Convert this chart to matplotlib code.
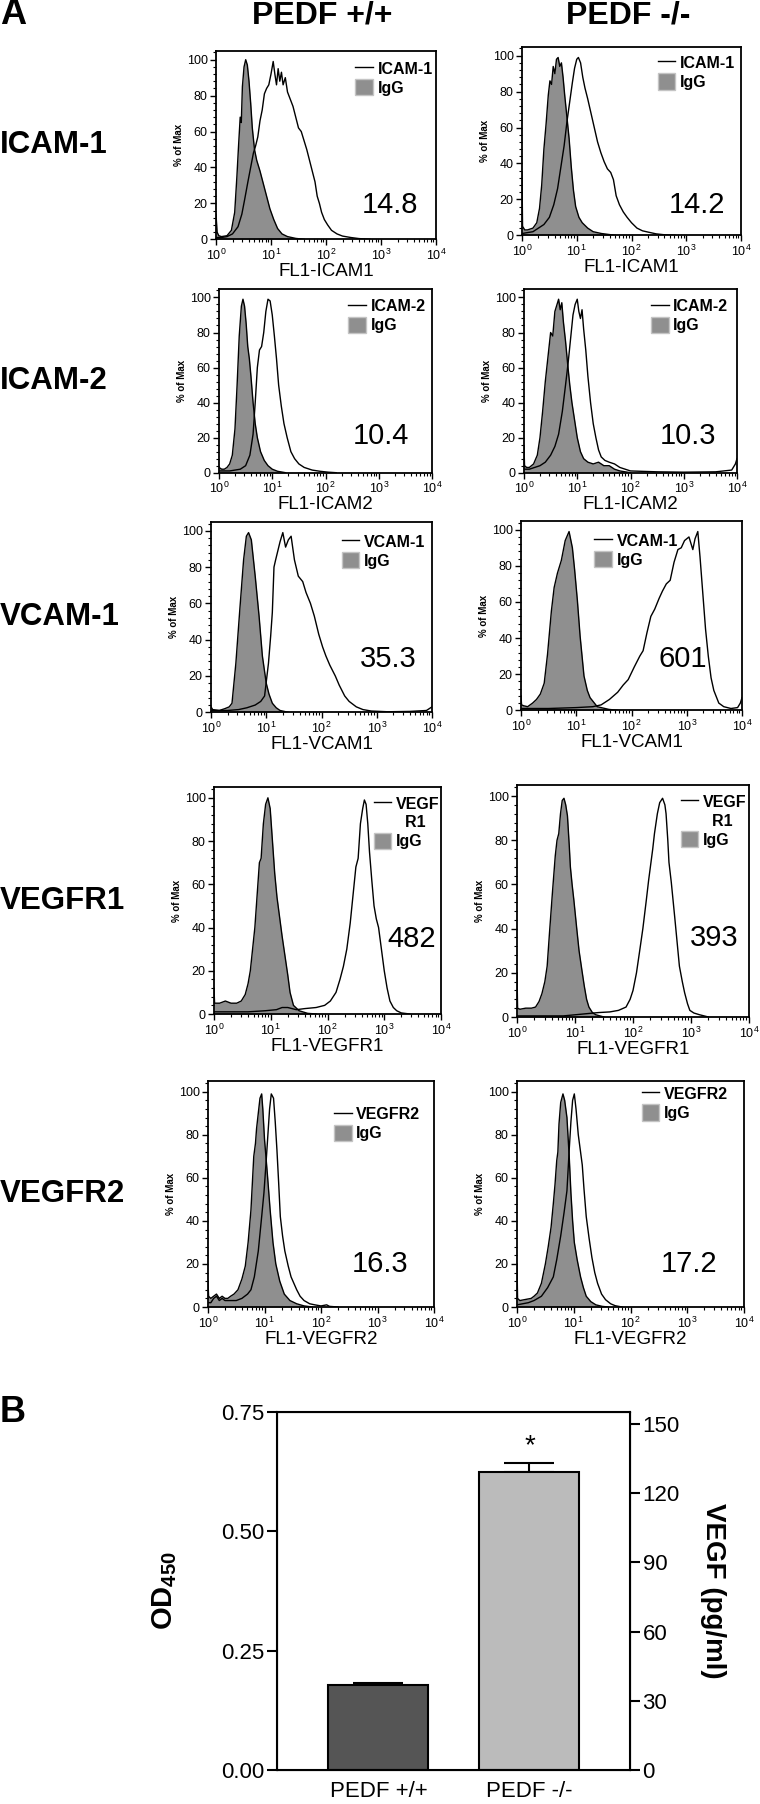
import matplotlib
matplotlib.use('Agg')
import matplotlib.pyplot as plt
from matplotlib.lines import Line2D
from matplotlib.patches import Patch
from matplotlib.ticker import AutoMinorLocator, LogLocator, NullFormatter

plt.rcParams['font.family'] = ['Liberation Sans', 'DejaVu Sans']
plt.rcParams['mathtext.fontset'] = 'custom'
plt.rcParams['mathtext.rm'] = 'Liberation Sans'
plt.rcParams['mathtext.bf'] = 'Liberation Sans:bold'

# ---- panel A data ----
markers = ['ICAM-1', 'ICAM-2', 'VCAM-1', 'VEGFR1', 'VEGFR2']
channel_labels = ['FL1-ICAM1', 'FL1-ICAM2', 'FL1-VCAM1', 'FL1-VEGFR1', 'FL1-VEGFR2']
legend_labels = [['ICAM-1'], ['ICAM-2'], ['VCAM-1'], ['VEGF', '  R1'], ['VEGFR2']]
mfi_wt = ['14.8', '10.4', '35.3', '482', '16.3']
mfi_ko = ['14.2', '10.3', '601', '393', '17.2']
decade_ticks = [1, 10, 100, 1000, 10000]
decade_labels = [r'$10^0$', r'$10^1$', r'$10^2$', r'$10^3$', r'$10^4$']

# histograms as (log10 fluorescence, % of max)
icam1_wt_igg = [(0, 14), (0.02, 4), (0.05, 2), (0.1, 1.5), (0.2, 2), (0.28, 5), (0.34, 15), (0.38, 35),
                (0.41, 52), (0.44, 68), (0.46, 65), (0.48, 85), (0.51, 96), (0.54, 100), (0.57, 97),
                (0.6, 88), (0.63, 76), (0.66, 62), (0.7, 50), (0.74, 44), (0.8, 38), (0.86, 31),
                (0.92, 24), (0.98, 17), (1.05, 11), (1.12, 6), (1.2, 3), (1.3, 1.5), (1.45, 0.5), (1.6, 0)]
icam1_wt_ab = [(0, 1), (0.1, 1), (0.2, 1.5), (0.3, 3), (0.4, 7), (0.47, 14), (0.52, 22), (0.58, 32),
               (0.63, 40), (0.68, 48), (0.72, 52), (0.76, 57), (0.8, 66), (0.84, 72), (0.88, 81),
               (0.92, 84), (0.96, 86), (1.0, 92), (1.04, 99), (1.07, 92), (1.1, 86), (1.13, 95),
               (1.16, 88), (1.19, 93), (1.22, 86), (1.26, 90), (1.3, 82), (1.35, 78), (1.4, 74),
               (1.45, 68), (1.5, 62), (1.55, 60), (1.6, 55), (1.65, 50), (1.7, 44), (1.75, 38),
               (1.8, 32), (1.84, 24), (1.88, 20), (1.92, 15), (1.97, 11), (2.03, 8), (2.1, 5),
               (2.2, 3), (2.3, 1.8), (2.45, 1), (2.6, 0.4), (2.8, 0)]
icam1_ko_igg = [(0, 35), (0.01, 5), (0.05, 3), (0.1, 3), (0.2, 4), (0.27, 7), (0.32, 15), (0.36, 28),
                (0.4, 48), (0.44, 62), (0.48, 78), (0.51, 86), (0.54, 84), (0.57, 94), (0.6, 90),
                (0.63, 98), (0.66, 99), (0.69, 94), (0.72, 96), (0.75, 88), (0.78, 78), (0.82, 66),
                (0.86, 54), (0.9, 38), (0.94, 25), (0.98, 16), (1.04, 10), (1.1, 7), (1.2, 4),
                (1.3, 2), (1.45, 1), (1.7, 0)]
icam1_ko_ab = [(0, 1), (0.1, 1.5), (0.2, 2), (0.3, 4), (0.4, 6), (0.5, 10), (0.58, 17), (0.65, 26),
               (0.72, 40), (0.77, 50), (0.82, 63), (0.87, 74), (0.92, 85), (0.96, 93), (1.0, 98),
               (1.03, 99), (1.07, 96), (1.11, 88), (1.15, 82), (1.2, 76), (1.26, 68), (1.32, 60),
               (1.38, 52), (1.44, 46), (1.5, 41), (1.56, 37), (1.62, 35), (1.67, 31), (1.72, 22),
               (1.78, 17), (1.85, 13), (1.92, 10), (2.0, 7), (2.1, 4), (2.2, 2.5), (2.3, 1.8),
               (2.45, 0.8), (2.6, 0.3), (2.8, 0)]

icam2_wt_igg = [(0, 3), (0.05, 2), (0.1, 2), (0.15, 3), (0.2, 5), (0.25, 10), (0.3, 25), (0.34, 50),
                (0.38, 78), (0.42, 95), (0.45, 99), (0.48, 95), (0.51, 85), (0.54, 72), (0.57, 65),
                (0.6, 55), (0.64, 40), (0.68, 28), (0.72, 20), (0.78, 12), (0.85, 7), (0.92, 4),
                (1.0, 2), (1.1, 0.8), (1.25, 0)]
icam2_wt_ab = [(0, 1), (0.2, 1), (0.4, 2), (0.5, 4), (0.58, 10), (0.64, 22), (0.68, 40), (0.72, 60),
               (0.76, 70), (0.8, 72), (0.84, 80), (0.88, 92), (0.92, 99), (0.96, 98), (1.0, 90),
               (1.04, 78), (1.08, 65), (1.12, 50), (1.17, 38), (1.22, 28), (1.28, 20), (1.35, 12),
               (1.42, 8), (1.5, 5), (1.6, 3), (1.75, 1.5), (1.9, 0.8), (2.05, 0.3), (2.2, 0)]
icam2_ko_igg = [(0, 15), (0.01, 4), (0.05, 3), (0.1, 3), (0.18, 5), (0.25, 10), (0.3, 20), (0.35, 35),
                (0.4, 52), (0.45, 66), (0.5, 80), (0.54, 78), (0.58, 92), (0.62, 96), (0.65, 99),
                (0.68, 93), (0.71, 97), (0.74, 86), (0.78, 75), (0.82, 62), (0.86, 50), (0.9, 40),
                (0.95, 30), (1.0, 20), (1.06, 12), (1.12, 8), (1.2, 6), (1.3, 5), (1.4, 6), (1.5, 4),
                (1.6, 4), (1.7, 2), (1.8, 1), (1.9, 0.5), (2.0, 0)]
icam2_ko_ab = [(0, 2), (0.1, 2), (0.2, 3), (0.3, 4), (0.4, 6), (0.5, 10), (0.58, 15), (0.65, 22),
               (0.72, 35), (0.78, 50), (0.83, 63), (0.88, 78), (0.92, 90), (0.96, 96), (1.0, 99),
               (1.03, 92), (1.06, 88), (1.09, 93), (1.12, 82), (1.16, 70), (1.2, 55), (1.25, 40),
               (1.3, 28), (1.35, 20), (1.4, 13), (1.45, 9), (1.52, 7), (1.6, 6), (1.7, 5), (1.8, 3),
               (1.9, 2), (2.0, 1), (2.5, 0.5), (3.0, 0.3), (3.6, 0.5), (3.9, 1.5), (3.97, 5), (4.0, 8)]

vcam1_wt_igg = [(0, 3), (0.03, 1.5), (0.15, 1), (0.25, 2), (0.33, 3), (0.38, 5), (0.45, 27), (0.52, 56),
                (0.59, 84), (0.64, 97), (0.68, 99), (0.73, 95), (0.8, 75), (0.87, 53), (0.93, 31),
                (1.0, 16), (1.05, 10), (1.11, 5), (1.18, 2.5), (1.25, 1), (1.4, 0)]
vcam1_wt_ab = [(0, 1), (0.3, 1), (0.5, 1.5), (0.65, 2.5), (0.8, 4), (0.9, 6), (0.97, 9), (1.04, 27),
               (1.08, 42), (1.11, 55), (1.14, 80), (1.17, 84), (1.21, 89), (1.25, 94), (1.3, 99),
               (1.35, 91), (1.4, 95), (1.45, 97), (1.51, 84), (1.58, 75), (1.66, 72), (1.72, 66),
               (1.8, 60), (1.87, 53), (1.95, 43), (2.02, 36), (2.08, 31), (2.15, 26), (2.25, 20),
               (2.32, 15), (2.42, 9), (2.5, 6), (2.63, 3), (2.75, 1.5), (2.9, 0.7), (3.2, 0.3),
               (3.6, 0.5), (3.9, 1), (4.0, 3)]
vcam1_ko_igg = [(0, 8), (0.01, 3), (0.05, 2.5), (0.12, 2), (0.21, 4), (0.28, 6), (0.35, 9), (0.42, 15),
                (0.48, 31), (0.55, 55), (0.6, 68), (0.66, 76), (0.73, 83), (0.8, 94), (0.87, 99),
                (0.93, 90), (0.97, 78), (1.02, 61), (1.07, 41), (1.14, 19), (1.2, 11), (1.25, 7),
                (1.38, 2), (1.59, 0.5), (1.75, 0)]
vcam1_ko_ab = [(0, 1), (0.5, 1), (1.0, 1.5), (1.3, 2), (1.45, 3), (1.6, 6), (1.75, 10), (1.85, 14),
               (1.94, 17), (2.05, 24), (2.15, 30), (2.21, 33), (2.28, 43), (2.35, 52), (2.42, 56),
               (2.5, 62), (2.56, 66), (2.63, 70), (2.7, 72), (2.77, 82), (2.84, 89), (2.9, 90),
               (2.96, 94), (3.04, 96), (3.08, 92), (3.11, 89), (3.15, 95), (3.2, 99), (3.24, 85),
               (3.29, 65), (3.34, 45), (3.39, 30), (3.44, 18), (3.49, 11), (3.58, 4), (3.67, 2),
               (3.8, 1), (3.92, 1.5), (3.97, 4), (4.0, 7)]

vegfr1_wt_igg = [(0, 12), (0.01, 5), (0.1, 5), (0.2, 6), (0.3, 5), (0.4, 5), (0.48, 6), (0.55, 9),
                 (0.6, 14), (0.64, 20), (0.68, 30), (0.72, 40), (0.76, 55), (0.8, 70), (0.83, 72),
                 (0.87, 88), (0.91, 97), (0.95, 100), (0.99, 95), (1.03, 80), (1.07, 65), (1.11, 54),
                 (1.15, 46), (1.2, 36), (1.25, 27), (1.3, 18), (1.34, 10), (1.4, 4), (1.5, 1.5),
                 (1.65, 0.3), (1.8, 0)]
vegfr1_wt_ab = [(0, 1), (0.3, 1), (0.6, 1), (0.9, 1.5), (1.1, 2), (1.2, 3), (1.3, 3), (1.45, 2),
                (1.6, 2.5), (1.8, 3), (1.95, 4), (2.05, 6), (2.15, 10), (2.22, 16), (2.28, 22),
                (2.34, 30), (2.4, 42), (2.45, 55), (2.5, 68), (2.54, 72), (2.58, 88), (2.62, 95),
                (2.65, 99), (2.68, 97), (2.71, 88), (2.74, 75), (2.78, 62), (2.82, 50), (2.86, 44),
                (2.9, 40), (2.95, 30), (3.0, 20), (3.05, 12), (3.1, 6), (3.16, 3), (3.22, 1.5),
                (3.3, 0.5), (3.45, 0)]
vegfr1_ko_igg = [(0, 20), (0.01, 4), (0.05, 3.5), (0.15, 4), (0.25, 4), (0.32, 4.5), (0.38, 7),
                 (0.43, 10.6), (0.48, 16), (0.52, 23), (0.56, 38), (0.61, 56), (0.66, 73), (0.69, 80),
                 (0.72, 83), (0.75, 92), (0.78, 98), (0.81, 99), (0.84, 96), (0.87, 91), (0.9, 78),
                 (0.92, 68), (0.95, 60), (0.98, 53), (1.03, 40), (1.07, 30), (1.12, 21), (1.16, 14),
                 (1.2, 8), (1.24, 4.5), (1.3, 2), (1.36, 1), (1.5, 0)]
vegfr1_ko_ab = [(0, 0.5), (0.6, 0.5), (0.8, 0.5), (1.0, 1), (1.2, 1.5), (1.4, 2), (1.6, 2.3), (1.75, 3),
                (1.88, 4.5), (1.95, 8), (2.0, 12), (2.06, 20), (2.11, 29), (2.17, 40), (2.23, 53),
                (2.27, 62), (2.31, 70), (2.34, 76), (2.37, 83), (2.42, 92), (2.46, 97), (2.51, 99),
                (2.55, 96), (2.57, 92), (2.6, 80), (2.62, 70), (2.66, 61), (2.72, 45), (2.76, 34),
                (2.8, 23), (2.85, 16), (2.89, 11), (2.94, 6), (2.98, 3), (3.05, 1.8), (3.15, 1), (3.3, 0)]

vegfr2_wt_igg = [(0, 12), (0.01, 5), (0.05, 4), (0.1, 5), (0.15, 6), (0.2, 4), (0.25, 5), (0.3, 4),
                 (0.35, 4), (0.4, 5), (0.46, 6), (0.53, 8), (0.6, 13), (0.66, 19), (0.71, 30),
                 (0.76, 45), (0.79, 60), (0.81, 70), (0.84, 76), (0.86, 83), (0.89, 90), (0.92, 97),
                 (0.95, 99), (0.97, 92), (1.0, 78), (1.05, 62), (1.1, 45), (1.15, 30), (1.2, 20),
                 (1.27, 12), (1.35, 6), (1.45, 3), (1.57, 1.5), (1.7, 0.5), (1.85, 0)]
vegfr2_wt_ab = [(0, 2), (0.05, 2), (0.1, 4), (0.15, 5), (0.2, 3), (0.25, 4), (0.3, 3), (0.4, 3),
                (0.5, 3), (0.6, 4), (0.7, 6), (0.76, 8), (0.82, 14), (0.89, 26), (0.95, 42),
                (0.99, 53), (1.03, 68), (1.06, 80), (1.09, 92), (1.12, 99), (1.16, 97), (1.19, 86),
                (1.22, 73), (1.25, 58), (1.28, 42), (1.32, 33), (1.36, 26), (1.42, 19), (1.47, 14),
                (1.52, 11), (1.57, 8), (1.63, 5), (1.7, 3), (1.8, 1.5), (1.89, 1), (2.0, 0.5),
                (2.1, 1), (2.15, 0.3), (2.3, 0)]
vegfr2_ko_igg = [(0, 20), (0.01, 4), (0.05, 3), (0.15, 3.5), (0.25, 4), (0.3, 5), (0.36, 6.5),
                 (0.43, 11), (0.5, 20), (0.55, 28), (0.6, 37), (0.64, 48), (0.67, 57), (0.7, 68),
                 (0.72, 72), (0.74, 85), (0.77, 95), (0.81, 99), (0.84, 96), (0.88, 88), (0.92, 70),
                 (0.95, 53), (0.98, 40), (1.01, 30), (1.06, 22), (1.12, 14), (1.17, 9), (1.22, 5),
                 (1.3, 2.5), (1.39, 1), (1.5, 0.3), (1.6, 0)]
vegfr2_ko_ab = [(0, 1), (0.1, 1.5), (0.2, 2), (0.3, 3), (0.43, 5), (0.54, 9), (0.64, 14), (0.7, 22),
                (0.77, 33), (0.83, 44), (0.88, 54), (0.92, 73), (0.95, 86), (0.98, 96), (1.01, 99),
                (1.04, 92), (1.08, 80), (1.12, 72), (1.15, 66), (1.18, 55), (1.22, 42), (1.27, 32),
                (1.32, 23), (1.37, 16), (1.42, 11), (1.49, 6), (1.56, 3.4), (1.65, 1.5), (1.73, 0.6),
                (1.85, 0)]

# ---- panel B data ----
bar_groups = ['PEDF +/+', 'PEDF -/-']
od450 = [0.178, 0.624]
od450_sem = [0.005, 0.018]
od_ticks = [0.00, 0.25, 0.50, 0.75]
vegf_ticks = [0, 30, 60, 90, 120, 150]

histograms = [
    [(icam1_wt_igg, icam1_wt_ab), (icam1_ko_igg, icam1_ko_ab)],
    [(icam2_wt_igg, icam2_wt_ab), (icam2_ko_igg, icam2_ko_ab)],
    [(vcam1_wt_igg, vcam1_wt_ab), (vcam1_ko_igg, vcam1_ko_ab)],
    [(vegfr1_wt_igg, vegfr1_wt_ab), (vegfr1_ko_igg, vegfr1_ko_ab)],
    [(vegfr2_wt_igg, vegfr2_wt_ab), (vegfr2_ko_igg, vegfr2_ko_ab)],
]

# layout in pixels of the 760x1804 canvas: left, right, top, bottom(=0 line)
W, H = 760.0, 1804.0
boxes = [
    [(216, 436, 50.7, 239.3), (522, 741, 46.7, 235.3)],
    [(219, 432, 288.7, 472.7), (524, 737, 288.7, 472.7)],
    [(211, 432, 521.7, 712.3), (521, 742, 520.7, 710.3)],
    [(214, 441, 787, 1014), (517, 749, 785, 1017)],
    [(208, 434, 1081, 1307), (517, 744, 1081, 1307)],
]
# legend anchor (right, top) and number position in axes fractions
legend_pos = [
    [(0.985, 0.95), (0.975, 0.96)],
    [(0.97, 0.95), (0.96, 0.95)],
    [(0.97, 0.94), (0.71, 0.94)],
    [(0.995, 0.965), (0.99, 0.965)],
    [(0.94, 0.89), (0.93, 0.98)],
]
number_pos = [
    [(0.79, 0.18), (0.80, 0.16)],
    [(0.76, 0.2), (0.77, 0.2)],
    [(0.80, 0.28), (0.73, 0.27)],
    [(0.87, 0.33), (0.85, 0.34)],
    [(0.76, 0.19), (0.76, 0.19)],
]
row_label_y = [145, 381, 617, 901, 1194]

IGG_GRAY = '#8f8f8f'

fig = plt.figure(figsize=(W / 100, H / 100), dpi=100)


def px_axes(x0, x1, y0, y1):
    return fig.add_axes([x0 / W, 1 - y1 / H, (x1 - x0) / W, (y1 - y0) / H])


def draw_histogram(ax, igg, ab):
    gx = [10 ** p[0] for p in igg]
    gy = [p[1] for p in igg]
    ax.fill_between(gx, gy, 0, color=IGG_GRAY, lw=0, zorder=1)
    ax.plot(gx, gy, color='k', lw=1.0, zorder=2)
    ax.plot([10 ** p[0] for p in ab], [p[1] for p in ab], color='k', lw=1.0, zorder=3)


for r in range(5):
    for c in range(2):
        ax = px_axes(*boxes[r][c])
        igg, ab = histograms[r][c]
        draw_histogram(ax, igg, ab)
        ax.set_xscale('log')
        ax.set_xlim(1, 10000)
        ax.set_ylim(0, 105)
        ax.set_xticks(decade_ticks)
        ax.set_xticklabels(decade_labels)
        ax.xaxis.set_minor_locator(LogLocator(base=10, subs=range(2, 10)))
        ax.xaxis.set_minor_formatter(NullFormatter())
        ax.set_yticks([0, 20, 40, 60, 80, 100])
        ax.yaxis.set_minor_locator(AutoMinorLocator(5))
        ax.tick_params(which='major', length=4, width=1, labelsize=9, pad=2)
        ax.tick_params(which='minor', length=2, width=0.8)
        for s in ax.spines.values():
            s.set_linewidth(1.3)
        ax.set_xlabel(channel_labels[r], fontsize=13.5, labelpad=0)
        ax.set_ylabel('% of Max', fontsize=7, fontweight='bold', labelpad=2)

        labels = legend_labels[r] + ['IgG']
        handles = [Line2D([], [], color='k', lw=1)]
        handles += [Line2D([], [], color='none')] * (len(legend_labels[r]) - 1)
        handles += [Patch(facecolor=IGG_GRAY, edgecolor='#c4c4c4', lw=1)]
        ax.legend(handles, labels, loc='upper right',
                  bbox_to_anchor=legend_pos[r][c], frameon=False, borderpad=0,
                  borderaxespad=0, handlelength=1.1, handleheight=1.2,
                  handletextpad=0.3, labelspacing=0.15,
                  prop={'weight': 'bold', 'size': 11.5})
        nums = mfi_wt if c == 0 else mfi_ko
        ax.text(number_pos[r][c][0], number_pos[r][c][1], nums[r], transform=ax.transAxes,
                ha='center', va='center', fontsize=21)

fig.text(322 / W, 1 - 16 / H, 'PEDF +/+', ha='center', va='center', fontsize=23, fontweight='bold')
fig.text(628 / W, 1 - 16 / H, 'PEDF -/-', ha='center', va='center', fontsize=23, fontweight='bold')
for r in range(5):
    fig.text(0, 1 - row_label_y[r] / H, markers[r], ha='left', va='center',
             fontsize=22.5, fontweight='bold')
fig.text(0, 1 - 14 / H, 'A', ha='left', va='center', fontsize=26, fontweight='bold')
fig.text(0, 1 - 1412 / H, 'B', ha='left', va='center', fontsize=26, fontweight='bold')

# ---- panel B ----
axb = px_axes(277, 630, 1411.7, 1770)
xpos = range(len(bar_groups))
axb.bar(xpos, od450, width=0.662, color=['#555555', '#bbbbbb'], edgecolor='k', lw=1.5, zorder=2)
axb.errorbar(xpos, od450, yerr=[[0, 0], od450_sem], fmt='none', ecolor='k',
             capsize=18, elinewidth=1.5, capthick=1.5, zorder=1)
axb.text(1, od450[1] + od450_sem[1] + 0.008, '*', ha='center', va='bottom', fontsize=20)
axb.set_xlim(-0.672, 1.666)
axb.set_ylim(0, 0.75)
axb.set_yticks(od_ticks)
axb.set_yticklabels(['%.2f' % t for t in od_ticks])
axb.set_xticks(list(xpos))
axb.set_xticklabels(bar_groups)
axb.tick_params(axis='x', length=0, labelsize=16, pad=8)
axb.tick_params(axis='y', length=7, width=1.5, labelsize=16, pad=2)
for s in axb.spines.values():
    s.set_linewidth(1.5)
axb.set_ylabel(r'$\mathbf{OD_{450}}$', fontsize=21)
axb.yaxis.set_label_coords((179 - 277) / 353.0, 0.5)

ax2 = axb.twinx()
ax2.set_ylim(0, 155.4)
ax2.set_yticks(vegf_ticks)
ax2.tick_params(axis='y', length=7, width=1.5, labelsize=16, pad=2)
ax2.set_ylabel('VEGF (pg/ml)', fontsize=20, fontweight='bold', rotation=270, va='center')
ax2.yaxis.set_label_coords((713 - 277) / 353.0, 0.5)

fig.savefig('out.png', dpi=100)
